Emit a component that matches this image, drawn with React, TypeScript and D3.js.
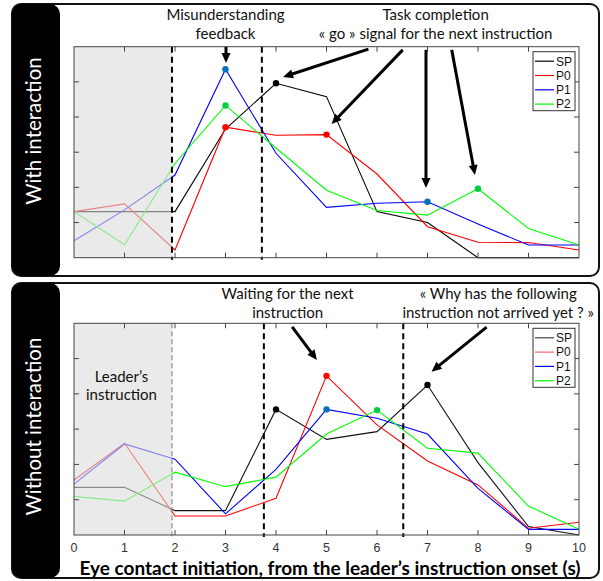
import React from "react";
import * as d3 from "d3";

// x: seconds after the leader's instruction onset
const xValues = [0, 1, 2, 3, 4, 5, 6, 7, 8, 9, 10];
const seriesNames = ["SP", "P0", "P1", "P2"];
const yTicks = [0, 1, 2, 3, 4, 5, 6];

// "With interaction" panel
const withSP = [1.31, 1.31, 1.31, 3.66, 4.96, 4.58, 1.31, 1.0, 0, 0, 0];
const withP0 = [1.31, 1.53, 0.22, 3.71, 3.48, 3.5, 2.38, 0.88, 0.44, 0.43, 0.22];
const withP1 = [0.48, 1.36, 2.35, 5.36, 2.97, 1.43, 1.55, 1.59, 0.96, 0.36, 0.36];
const withP2 = [1.31, 0.37, 2.68, 4.33, 3.12, 1.92, 1.34, 1.21, 1.96, 0.83, 0.36];
const withMarks = [[4], [3, 5], [3, 7], [3, 8]];
const withEvents = [1.94, 3.72];

// "Without interaction" panel
const withoutSP = [1.35, 1.35, 0.69, 0.69, 3.56, 2.71, 2.93, 4.25, 2.05, 0.24, 0];
const withoutP0 = [1.56, 2.6, 0.54, 0.54, 1.04, 4.51, 3.12, 2.1, 1.42, 0.19, 0.36];
const withoutP1 = [1.44, 2.58, 2.15, 0.6, 1.86, 3.56, 3.31, 2.86, 1.32, 0.16, 0.16];
const withoutP2 = [1.09, 0.96, 1.78, 1.37, 1.64, 2.86, 3.54, 2.46, 2.32, 0.82, 0.16];
const withoutMarks = [[4, 7], [5], [5], [6]];
const withoutEvents = [1.94, 3.76, 6.52];

const leaderEnd = 1.94;

const lineColors = ["#000", "#ff0000", "#0000ff", "#00ff00"];
const dotColors = ["#000", "#ff0000", "#0072bd", "#00d040"];

const x = d3.scaleLinear().domain([0, 10]).range([74, 579]);

const NOTE_FONT = "Lato, 'Open Sans', sans-serif";
const AX_FONT = "'Liberation Sans', Arial, sans-serif";

type Note = { at: number; lines: string[]; base: number[] };
type Arrow = { from: [number, number]; to: [number, number] };

function arrowShape(x1: number, y1: number, x2: number, y2: number) {
  const dx = x2 - x1, dy = y2 - y1;
  const len = Math.hypot(dx, dy);
  const ux = dx / len, uy = dy / len;
  const hl = 10, hw = 4.5;
  const bx = x2 - ux * hl, by = y2 - uy * hl;
  const head = [
    [x2, y2],
    [bx - uy * hw, by + ux * hw],
    [bx + uy * hw, by - ux * hw],
  ];
  return { shaft: [x1, y1, bx + ux * 2, by + uy * 2], head: head.map((p) => p.join(",")).join(" ") };
}

function Panel(props: {
  top: number;
  height: number;
  plotTop: number;
  plotBottom: number;
  label: string;
  labelY: number;
  series: number[][];
  marks: number[][];
  events: number[];
  notes: Note[];
  arrows: Arrow[];
  legendColors: string[];
  lineCols: string[];
  xLabels: boolean;
}) {
  const { top, height, plotTop, plotBottom } = props;
  const y = d3.scaleLinear().domain([0, 6]).range([plotBottom, plotTop]);
  const line = d3
    .line<number>()
    .x((_, i) => x(xValues[i]))
    .y((d) => y(d));
  const legTop = plotTop + 5;

  return (
    <g>
      <rect x={12} y={top} width={587} height={height} rx={9} fill="#fff" stroke="#111" strokeWidth={2} />
      <rect x={12} y={top} width={48} height={height} rx={10} fill="#000" />
      <text
        transform={`translate(34,${props.labelY}) rotate(-90)`}
        textAnchor="middle"
        dy="0.35em"
        fill="#fff"
        fontFamily={NOTE_FONT}
        fontSize={20.5}
      >
        {props.label}
      </text>

      {props.series.map((s, k) => (
        <path key={k} d={line(s) || ""} fill="none" stroke={props.lineCols[k]} strokeWidth={1.1} />
      ))}
      {props.series.map((s, k) =>
        props.marks[k].map((i) => (
          <circle key={`${k}-${i}`} cx={x(xValues[i])} cy={y(s[i])} r={3.2} fill={dotColors[k]} />
        ))
      )}

      {/* leader's instruction period, drawn over the lines so they fade */}
      <rect
        x={x(0)}
        y={plotTop}
        width={x(leaderEnd) - x(0)}
        height={plotBottom - plotTop}
        fill="#dcdcdc"
        fillOpacity={0.6}
      />

      {props.events.map((e, i) => {
        const faint = props.xLabels && i === 0;
        return (
          <line
            key={i}
            x1={x(e)}
            x2={x(e)}
            y1={plotTop}
            y2={plotBottom + 2}
            stroke={faint ? "#777" : "#000"}
            strokeWidth={faint ? 1 : 2}
            strokeDasharray={faint ? "5,3" : "6,4"}
          />
        );
      })}

      {/* axes box and ticks */}
      <rect x={x(0)} y={plotTop} width={x(10) - x(0)} height={plotBottom - plotTop} fill="none" stroke="#444" strokeWidth={1} />
      {xValues.slice(1, -1).map((t) => (
        <g key={t} stroke="#444">
          <line x1={x(t)} x2={x(t)} y1={plotBottom} y2={plotBottom - 5} />
          <line x1={x(t)} x2={x(t)} y1={plotTop} y2={plotTop + 5} />
        </g>
      ))}
      {yTicks.slice(1, -1).map((t) => (
        <g key={t} stroke="#444">
          <line x1={x(0)} x2={x(0) + 5} y1={y(t)} y2={y(t)} />
          <line x1={x(10)} x2={x(10) - 5} y1={y(t)} y2={y(t)} />
        </g>
      ))}
      {props.xLabels &&
        xValues.map((t) => (
          <text key={t} x={x(t)} y={552} textAnchor="middle" fontFamily={AX_FONT} fontSize={12.5} fill="#333">
            {t}
          </text>
        ))}

      {/* legend */}
      <rect x={533} y={legTop} width={42} height={59} fill="#fff" stroke="#333" strokeWidth={1} />
      {seriesNames.map((n, k) => {
        const ry = legTop + 9.5 + k * 14.3;
        return (
          <g key={n}>
            <line x1={535} x2={554} y1={ry} y2={ry} stroke={props.legendColors[k]} strokeWidth={1.2} />
            <text x={556} y={ry} dy="0.36em" fontFamily={AX_FONT} fontSize={12} fill="#111">
              {n}
            </text>
          </g>
        );
      })}

      {props.notes.map((n, i) =>
        n.lines.map((l, j) => (
          <text key={`${i}-${j}`} x={x(n.at)} y={n.base[j]} textAnchor="middle" fontFamily={NOTE_FONT} fontSize={15} fill="#111">
            {l}
          </text>
        ))
      )}
      {props.arrows.map((a, i) => {
        const s = arrowShape(x(a.from[0]), y(a.from[1]), x(a.to[0]), y(a.to[1]));
        return (
          <g key={i}>
            <line x1={s.shaft[0]} y1={s.shaft[1]} x2={s.shaft[2]} y2={s.shaft[3]} stroke="#000" strokeWidth={3} />
            <polygon points={s.head} fill="#000" />
          </g>
        );
      })}
    </g>
  );
}

const withNotes: Note[] = [
  { at: 3.0, lines: ["Misunderstanding", "feedback"], base: [20, 39] },
  { at: 7.16, lines: ["Task completion", "« go » signal for the next instruction"], base: [20, 39] },
];
const withArrows: Arrow[] = [
  { from: [3.01, 5.99], to: [3.01, 5.54] },
  { from: [5.83, 5.93], to: [4.14, 5.14] },
  { from: [6.51, 5.91], to: [5.1, 3.8] },
  { from: [6.97, 5.91], to: [6.97, 1.98] },
  { from: [7.48, 5.91], to: [7.94, 2.35] },
];

const withoutNotes: Note[] = [
  { at: 4.23, lines: ["Waiting for the next", "instruction"], base: [298.5, 317.5] },
  { at: 8.4, lines: ["« Why has the following", "instruction not arrived yet ? »"], base: [299, 318] },
  { at: 0.94, lines: ["Leader’s", "instruction"], base: [381.7, 400] },
];
const withoutArrows: Arrow[] = [
  { from: [4.32, 5.9], to: [4.81, 4.96] },
  { from: [8.17, 5.89], to: [7.08, 4.63] },
];

export default function App() {
  return (
    <svg width={603} height={581} style={{ position: "absolute", left: 0, top: 0, background: "#fff" }}>
      <Panel
        top={4}
        height={272}
        plotTop={46.7}
        plotBottom={257.7}
        label="With interaction"
        labelY={131}
        series={[withSP, withP0, withP1, withP2]}
        marks={withMarks}
        events={withEvents}
        notes={withNotes}
        arrows={withArrows}
        legendColors={lineColors}
        lineCols={lineColors}
        xLabels={false}
      />
      <Panel
        top={283}
        height={295}
        plotTop={323.3}
        plotBottom={535}
        label="Without interaction"
        labelY={426.5}
        series={[withoutSP, withoutP0, withoutP1, withoutP2]}
        marks={withoutMarks}
        events={withoutEvents}
        notes={withoutNotes}
        arrows={withoutArrows}
        legendColors={["#444", "#ff6666", "#0000ff", "#00ff00"]}
        lineCols={["#111", "#ff0000", "#0000ff", "#00ff00"]}
        xLabels={true}
      />
      <text x={330} y={575} textAnchor="middle" fontFamily={NOTE_FONT} fontWeight="bold" fontSize={19} fill="#000">
        Eye contact initiation, from the leader’s instruction onset (s)
      </text>
    </svg>
  );
}
